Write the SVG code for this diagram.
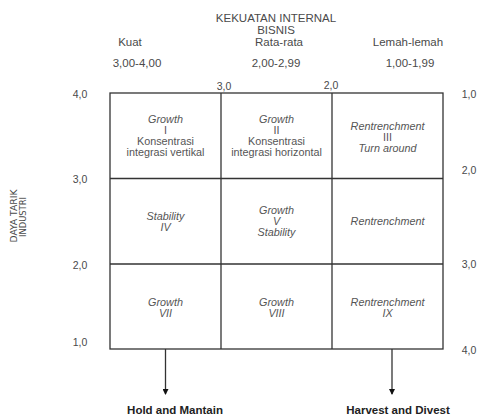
<svg xmlns="http://www.w3.org/2000/svg" width="483" height="416" viewBox="0 0 483 416">
<defs>
<style>
text{font-family:"Liberation Sans",Arial,sans-serif;fill:#4a4a4a;text-anchor:middle}
.h{font-size:11.5px}
.n{font-size:10.5px}
.c{font-size:10.8px;fill:#555}
.i{font-style:italic}
.b{font-weight:bold;font-size:11.5px;fill:#222}
.v{font-family:"Liberation Sans Narrow","DejaVu Sans Condensed","Liberation Sans",sans-serif;font-size:9.5px}
.ln{stroke:#333;stroke-width:1.3;fill:none}
</style>
<marker id="ah" markerWidth="6" markerHeight="6" refX="5" refY="3" orient="auto" markerUnits="userSpaceOnUse" viewBox="0 0 6 6">
<path d="M0,0 L6,3 L0,6 Z" fill="#111"/>
</marker>
</defs>
<rect width="483" height="416" fill="#fff"/>
<g id="header">
<text class="h" x="276" y="22">KEKUATAN INTERNAL</text>
<text class="h" x="276" y="34">BISNIS</text>
<text class="h" x="130" y="46">Kuat</text>
<text class="h" x="279" y="46">Rata-rata</text>
<text class="h" x="408" y="46">Lemah-lemah</text>
<text class="h" x="137" y="67">3,00-4,00</text>
<text class="h" x="276" y="67">2,00-2,99</text>
<text class="h" x="410" y="67">1,00-1,99</text>
</g>
<g id="axis-labels">
<text class="n" x="224" y="90">3,0</text>
<text class="n" x="331" y="89">2,0</text>
<text class="n" x="80" y="98">4,0</text>
<text class="n" x="80" y="183">3,0</text>
<text class="n" x="80" y="269">2,0</text>
<text class="n" x="80" y="346">1,0</text>
<text class="n" x="469" y="98">1,0</text>
<text class="n" x="469" y="174">2,0</text>
<text class="n" x="469" y="268">3,0</text>
<text class="n" x="469" y="354">4,0</text>
<g transform="translate(16.5,216) rotate(-90)"><text class="v" x="0" y="0" textLength="53" lengthAdjust="spacingAndGlyphs">DAYA TARIK</text></g>
<g transform="translate(25.5,217) rotate(-90)"><text class="v" x="0" y="0" textLength="40" lengthAdjust="spacingAndGlyphs">INDUSTRI</text></g>
</g>
<g id="grid">
<rect class="ln" x="110" y="93" width="333" height="256"/>
<line class="ln" x1="221" y1="93" x2="221" y2="349"/>
<line class="ln" x1="332" y1="93" x2="332" y2="349"/>
<line class="ln" x1="110" y1="178.5" x2="443" y2="178.5"/>
<line class="ln" x1="110" y1="264" x2="443" y2="264"/>
</g>
<g id="cell1">
<text class="c i" x="165.5" y="123">Growth</text>
<text class="c" x="165.5" y="134">I</text>
<text class="c" x="165.5" y="145">Konsentrasi</text>
<text class="c" x="165.5" y="156">integrasi vertikal</text>
</g>
<g id="cell2">
<text class="c i" x="276.5" y="123">Growth</text>
<text class="c" x="276.5" y="134">II</text>
<text class="c" x="276.5" y="145">Konsentrasi</text>
<text class="c" x="276.5" y="156">integrasi horizontal</text>
</g>
<g id="cell3">
<text class="c i" x="387.5" y="130">Rentrenchment</text>
<text class="c" x="387.5" y="141">III</text>
<text class="c i" x="387.5" y="152">Turn around</text>
</g>
<g id="cell4">
<text class="c i" x="165.5" y="220">Stability</text>
<text class="c i" x="165.5" y="231">IV</text>
</g>
<g id="cell5">
<text class="c i" x="276.5" y="214">Growth</text>
<text class="c i" x="276.5" y="225">V</text>
<text class="c i" x="276.5" y="236">Stability</text>
</g>
<g id="cell6">
<text class="c i" x="387.5" y="225">Rentrenchment</text>
</g>
<g id="cell7">
<text class="c i" x="165.5" y="306">Growth</text>
<text class="c i" x="165.5" y="317">VII</text>
</g>
<g id="cell8">
<text class="c i" x="276.5" y="306">Growth</text>
<text class="c i" x="276.5" y="317">VIII</text>
</g>
<g id="cell9">
<text class="c i" x="387.5" y="306">Rentrenchment</text>
<text class="c i" x="387.5" y="317">IX</text>
</g>
<g id="connectors">
<line class="ln" x1="165.5" y1="349" x2="165.5" y2="394" marker-end="url(#ah)"/>
<line class="ln" x1="392" y1="349" x2="392" y2="394" marker-end="url(#ah)"/>
</g>
<g id="outcome1"><text class="b" x="175" y="414">Hold and Mantain</text></g>
<g id="outcome2"><text class="b" x="398" y="414">Harvest and Divest</text></g>
</svg>
